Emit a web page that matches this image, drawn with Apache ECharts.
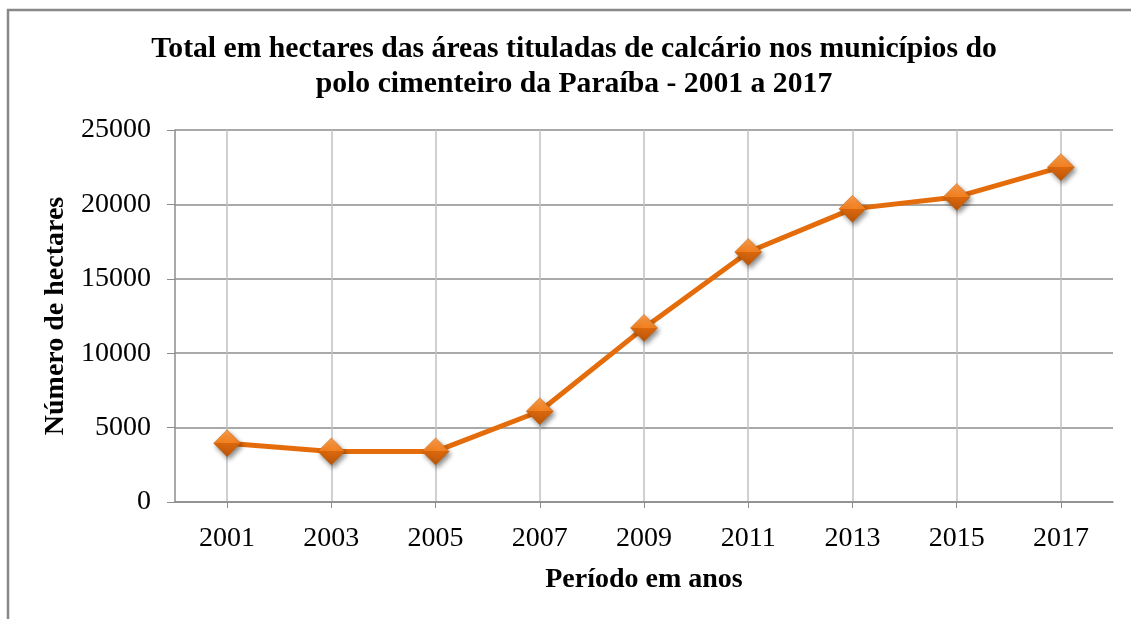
<!DOCTYPE html>
<html><head><meta charset="utf-8">
<script src="https://cdn.jsdelivr.net/npm/echarts@6/dist/echarts.min.js"></script>
<style>html,body{margin:0;padding:0;background:#fff}#c{width:1131px;height:619px}</style>
</head><body><div id="c"></div>
<script>
const years = ['2001','2003','2005','2007','2009','2011','2013','2015','2017'];
const hectares = [3950, 3400, 3400, 6100, 11700, 16800, 19700, 20500, 22500];
const yTicks = [0, 5000, 10000, 15000, 20000, 25000];
const titleText = 'Total em hectares das áreas tituladas de calcário nos municípios do\npolo cimenteiro da Paraíba - 2001 a 2017';
const F = "'Liberation Serif','Times New Roman',serif";
const chart = echarts.init(document.getElementById('c'));
chart.setOption({
  animation: false,
  graphic: [{type:'rect', shape:{x:8,y:10,width:1140,height:640}, style:{fill:'none', stroke:'#888', lineWidth:2.5}, silent:true}],
  title: {text: titleText, left: 569, top: 27, textAlign:'center',
    textStyle:{fontFamily:F, fontWeight:'bold', fontSize:29.7, color:'#000', lineHeight:35}},
  grid: {left:175, right:18, top:130, bottom:117},
  xAxis: {type:'category', data: years, boundaryGap:true,
    name:'Período em anos', nameLocation:'middle', nameGap:64,
    nameTextStyle:{fontFamily:F, fontWeight:'bold', fontSize:28, color:'#000'},
    axisLine:{lineStyle:{color:'#8c8c8c', width:1.5}},
    axisTick:{show:true, alignWithLabel:true, length:6, lineStyle:{color:'#8c8c8c'}},
    splitLine:{show:true, alignWithLabel:true, lineStyle:{color:'#c0c0c0', width:1.5}},
    axisLabel:{fontFamily:F, fontSize:28, color:'#000', margin:23}},
  yAxis: {type:'value', min: yTicks[0], max: yTicks[yTicks.length-1], interval:5000,
    name:'Número de hectares', nameLocation:'middle', nameGap:101,
    nameTextStyle:{fontFamily:F, fontWeight:'bold', fontSize:28, color:'#000'},
    axisLine:{show:true, lineStyle:{color:'#8c8c8c', width:1.5}},
    axisTick:{show:true, length:8, lineStyle:{color:'#8c8c8c'}},
    splitLine:{show:true, lineStyle:{color:'#8c8c8c', width:1.5}},
    axisLabel:{fontFamily:F, fontSize:28, color:'#000', margin:24, formatter: v => String(v)}},
  series: [{type:'line', data: hectares, z:5,
    lineStyle:{color:'#E46C0A', width:5},
    symbol:'diamond', symbolSize:27,
    itemStyle:{color:{type:'linear',x:0,y:0,x2:0,y2:1,colorStops:[
      {offset:0,color:'#FB9D4B'},{offset:0.5,color:'#F2801F'},{offset:0.5,color:'#DB680D'},{offset:1,color:'#B9560A'}]},
      borderColor:'#C0600F', borderWidth:0.5,
      shadowBlur:5, shadowColor:'rgba(0,0,0,0.45)', shadowOffsetX:2, shadowOffsetY:3}
  }]
});
</script></body></html>
